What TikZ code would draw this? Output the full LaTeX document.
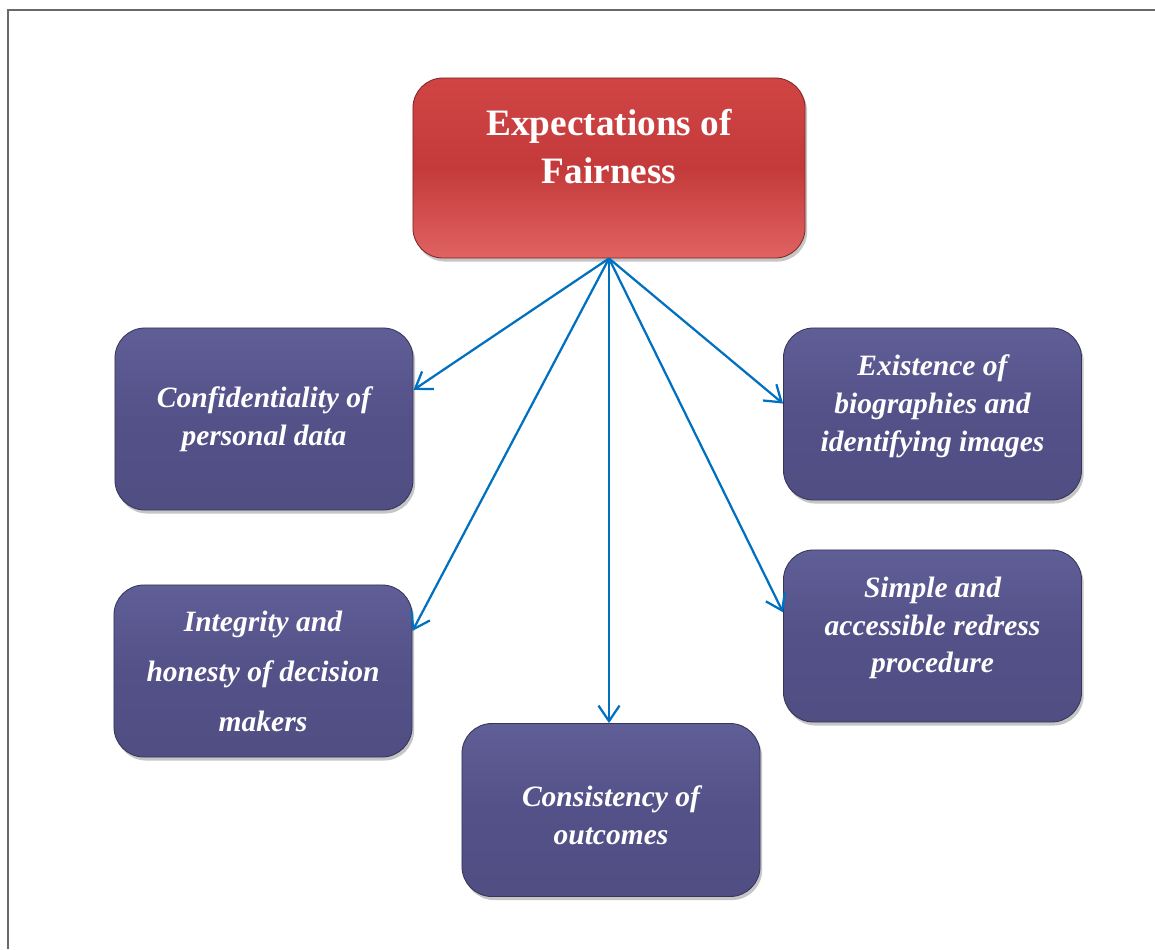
\documentclass[tikz,border=0pt]{standalone}
\usepackage{fontspec}
\setmainfont{Liberation Serif}
\usetikzlibrary{arrows.meta,shadows}

\definecolor{fairred}{RGB}{196,58,58}
\definecolor{fairredtop}{RGB}{208,68,68}
\definecolor{fairredlow}{RGB}{224,98,98}
\definecolor{itempurple}{RGB}{83,81,136}
\definecolor{itempurpletop}{RGB}{96,94,150}
\definecolor{linkblue}{RGB}{0,112,192}
\definecolor{framegray}{RGB}{105,105,105}

\tikzset{
  headbox/.style={rectangle, rounded corners=0.75cm, minimum width=9.8cm, minimum height=4.5cm,
    top color=fairredtop, bottom color=fairredlow, middle color=fairred,
    draw=fairred!65!black, line width=0.6pt,
    drop shadow={shadow xshift=1.5pt, shadow yshift=-2.5pt, opacity=0.45},
    text=white, align=center, font=\bfseries\fontsize{26.5}{34}\selectfont},
  itembox/.style={rectangle, rounded corners=0.75cm, minimum width=7.45cm,
    top color=itempurpletop, bottom color=itempurple!96!black, middle color=itempurple,
    draw=itempurple!65!black, line width=0.6pt,
    drop shadow={shadow xshift=1.5pt, shadow yshift=-2.5pt, opacity=0.45},
    text=white, align=center, font=\bfseries\itshape\fontsize{21}{27}\selectfont},
  link/.style={draw=linkblue, line width=1.6pt, -{Straight Barb[length=11pt,width=15pt]}}
}

\begin{document}
\begin{tikzpicture}[x=0.025cm,y=-0.025cm]
\useasboundingbox (0,0) rectangle (1155,949);
% frame
\draw[framegray,line width=1.4pt] (8,949) -- (8,10) -- (1155,10);

% boxes
\node[headbox, text depth=31pt] (fair) at (609,168) {Expectations of\\Fairness};
\node[itembox, minimum height=4.55cm] (conf) at (264,419) {Confidentiality of\\personal data};
\node[itembox, minimum height=4.3cm, font=\bfseries\itshape\fontsize{21}{35.5}\selectfont] (integ) at (263,671) {Integrity and\\honesty of decision\\makers};
\node[itembox, minimum height=4.325cm, text height=49pt] (consist) at (611,810) {Consistency of\\outcomes};
\node[itembox, minimum height=4.3cm, text depth=16pt] (exist) at (932.5,414) {Existence of\\biographies and\\identifying images};
\node[itembox, minimum height=4.3cm, text depth=16pt] (simple) at (932.5,636) {Simple and\\accessible redress\\procedure};

% arrows
\draw[link] (fair.south) -- (conf.11);
\draw[link] (fair.south) -- (integ.15);
\draw[link] (fair.south) -- (fair.south |- consist.north);
\draw[link] (fair.south) -- (exist.176);
\draw[link] (fair.south) -- (simple.171);
\end{tikzpicture}
\end{document}
